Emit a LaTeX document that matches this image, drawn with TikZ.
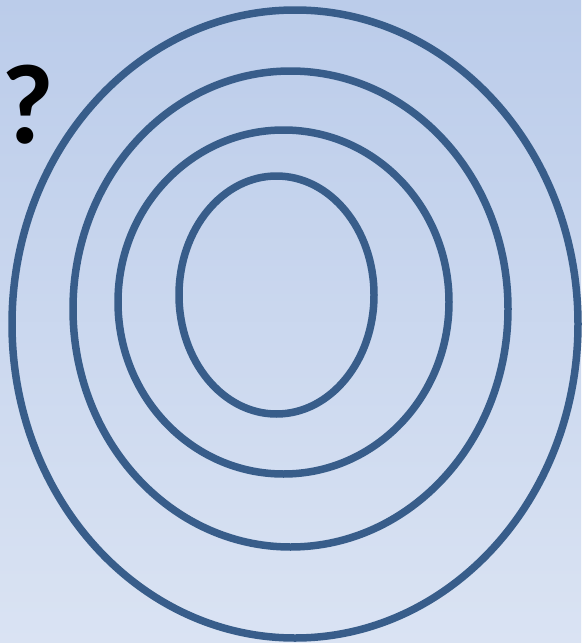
\documentclass[tikz,border=0pt]{standalone}
\usepackage{fontspec}
\newfontfamily\qfont{Carlito}
\definecolor{bgtop}{HTML}{BBCCEA}
\definecolor{bgbottom}{HTML}{DAE3F3}
\definecolor{ringblue}{HTML}{385D8A}
\begin{document}
\begin{tikzpicture}[x=0.03cm, y=-0.03cm,
  ring/.style={draw=ringblue, line width=6.4pt}]
\shade[top color=bgtop, bottom color=bgbottom] (0,0) rectangle (581,643);
\useasboundingbox (0,0) rectangle (581,643);
\draw[ring] (295,324) ellipse [x radius=283, y radius=314];
\draw[ring] (290.5,309) ellipse [x radius=217.5, y radius=238];
\draw[ring] (283.5,302) ellipse [x radius=165.5, y radius=172];
\draw[ring] (276.5,295) ellipse [x radius=97.5, y radius=119];
\node[inner sep=0pt, font=\qfont\bfseries\fontsize{97}{97}\selectfont] (qmark) at (28,105) {?};
\end{tikzpicture}
\end{document}
